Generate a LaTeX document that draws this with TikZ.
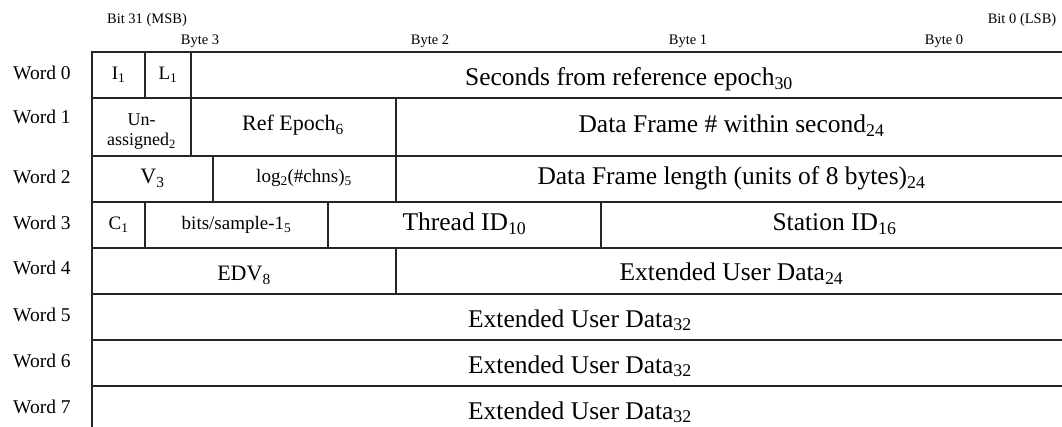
\documentclass[tikz,border=0pt]{standalone}
\usepackage{fontspec}
\setmainfont{Liberation Serif}
\usetikzlibrary{positioning}
\usetikzlibrary{calc}

\tikzset{
	hdr/.style={font=\fontsize{14.5}{16}\selectfont, inner sep=0pt},
	wlbl/.style={font=\fontsize{19.5}{22}\selectfont, anchor=west, inner sep=0pt},
	fsml/.style={font=\fontsize{19}{21}\selectfont, inner sep=0pt, anchor=base, align=center},
	fmid/.style={font=\fontsize{22}{24}\selectfont, inner sep=0pt, anchor=base},
	fbig/.style={font=\fontsize{25.5}{28}\selectfont, inner sep=0pt, anchor=base},
	cellline/.style={line width=2pt, black!85}
}

\begin{document}
\begin{tikzpicture}[x=1pt,y=-1pt]
	\useasboundingbox (0,0) rectangle (1062,427);
	\clip (0,0) rectangle (1062,427);
	% column headings
	\node[hdr] (msb) at (147,20) {Bit 31 (MSB)};
	\node[hdr] (lsb) at (1022,20) {Bit 0 (LSB)};
	\node[hdr] (b3) at (200,41) {Byte 3};
	\node[hdr] (b2) at (430,41) {Byte 2};
	\node[hdr] (b1) at (688,41) {Byte 1};
	\node[hdr] (b0) at (944,41) {Byte 0};
	% word labels
	\node[wlbl] (w0) at (13,72.7) {Word 0};
	\node[wlbl] (w1) at (13,117) {Word 1};
	\node[wlbl] (w2) at (13,176.7) {Word 2};
	\node[wlbl] (w3) at (13,222.5) {Word 3};
	\node[wlbl] (w4) at (13,268) {Word 4};
	\node[wlbl] (w5) at (13,315) {Word 5};
	\node[wlbl] (w6) at (13,361) {Word 6};
	\node[wlbl] (w7) at (13,407) {Word 7};
	% cell borders
	\draw[cellline] (92.3,52.5) rectangle (1068,432);
	\draw[cellline] (92.3,97.7) -- (1068,97.7);
	\draw[cellline] (92.3,156) -- (1068,156);
	\draw[cellline] (92.3,202) -- (1068,202);
	\draw[cellline] (92.3,248) -- (1068,248);
	\draw[cellline] (92.3,294) -- (1068,294);
	\draw[cellline] (92.3,340) -- (1068,340);
	\draw[cellline] (92.3,386) -- (1068,386);
	\draw[cellline] (145,52.5) -- (145,97.7) (190.5,52.5) -- (190.5,97.7);
	\draw[cellline] (190.5,97.7) -- (190.5,156) (395.5,97.7) -- (395.5,156);
	\draw[cellline] (213,156) -- (213,202) (395.5,156) -- (395.5,202);
	\draw[cellline] (145,202) -- (145,248) (328,202) -- (328,248) (601,202) -- (601,248);
	\draw[cellline] (395.5,248) -- (395.5,294);
	% word 0
	\node[fsml] (ibit) at (118.5,80) {I\textsubscript{1}};
	\node[fsml] (lbit) at (168,80) {L\textsubscript{1}};
	\node[fbig] (secs) at (629,85.7) {Seconds from reference epoch\textsubscript{30}};
	% word 1
	\node[font=\fontsize{18}{20}\selectfont, inner sep=0pt, align=center] (unas) at (141.5,132) {Un-\\assigned\textsubscript{2}};
	\node[fmid] (refep) at (293,131) {Ref Epoch\textsubscript{6}};
	\node[fbig] (dfnum) at (731.5,133) {Data Frame \# within second\textsubscript{24}};
	% word 2
	\node[fmid] (ver) at (152.5,184) {V\textsubscript{3}};
	\node[fsml] (nchan) at (304,183) {log\textsubscript{2}(\#chns)\textsubscript{5}};
	\node[fbig] (dflen) at (731.5,185) {Data Frame length (units of 8 bytes)\textsubscript{24}};
	% word 3
	\node[fsml] (cplx) at (118.5,230) {C\textsubscript{1}};
	\node[fsml] (bps) at (236.5,230) {bits/sample-1\textsubscript{5}};
	\node[fbig] (thread) at (464.5,231) {Thread ID\textsubscript{10}};
	\node[fbig] (station) at (834.5,231) {Station ID\textsubscript{16}};
	% word 4
	\node[fmid] (edv) at (244,281) {EDV\textsubscript{8}};
	\node[fbig] (eud4) at (731.5,281) {Extended User Data\textsubscript{24}};
	% words 5-7
	\node[fbig] (eud5) at (580,327) {Extended User Data\textsubscript{32}};
	\node[fbig] (eud6) at (580,373) {Extended User Data\textsubscript{32}};
	\node[fbig] (eud7) at (580,419) {Extended User Data\textsubscript{32}};
\end{tikzpicture}
\end{document}
